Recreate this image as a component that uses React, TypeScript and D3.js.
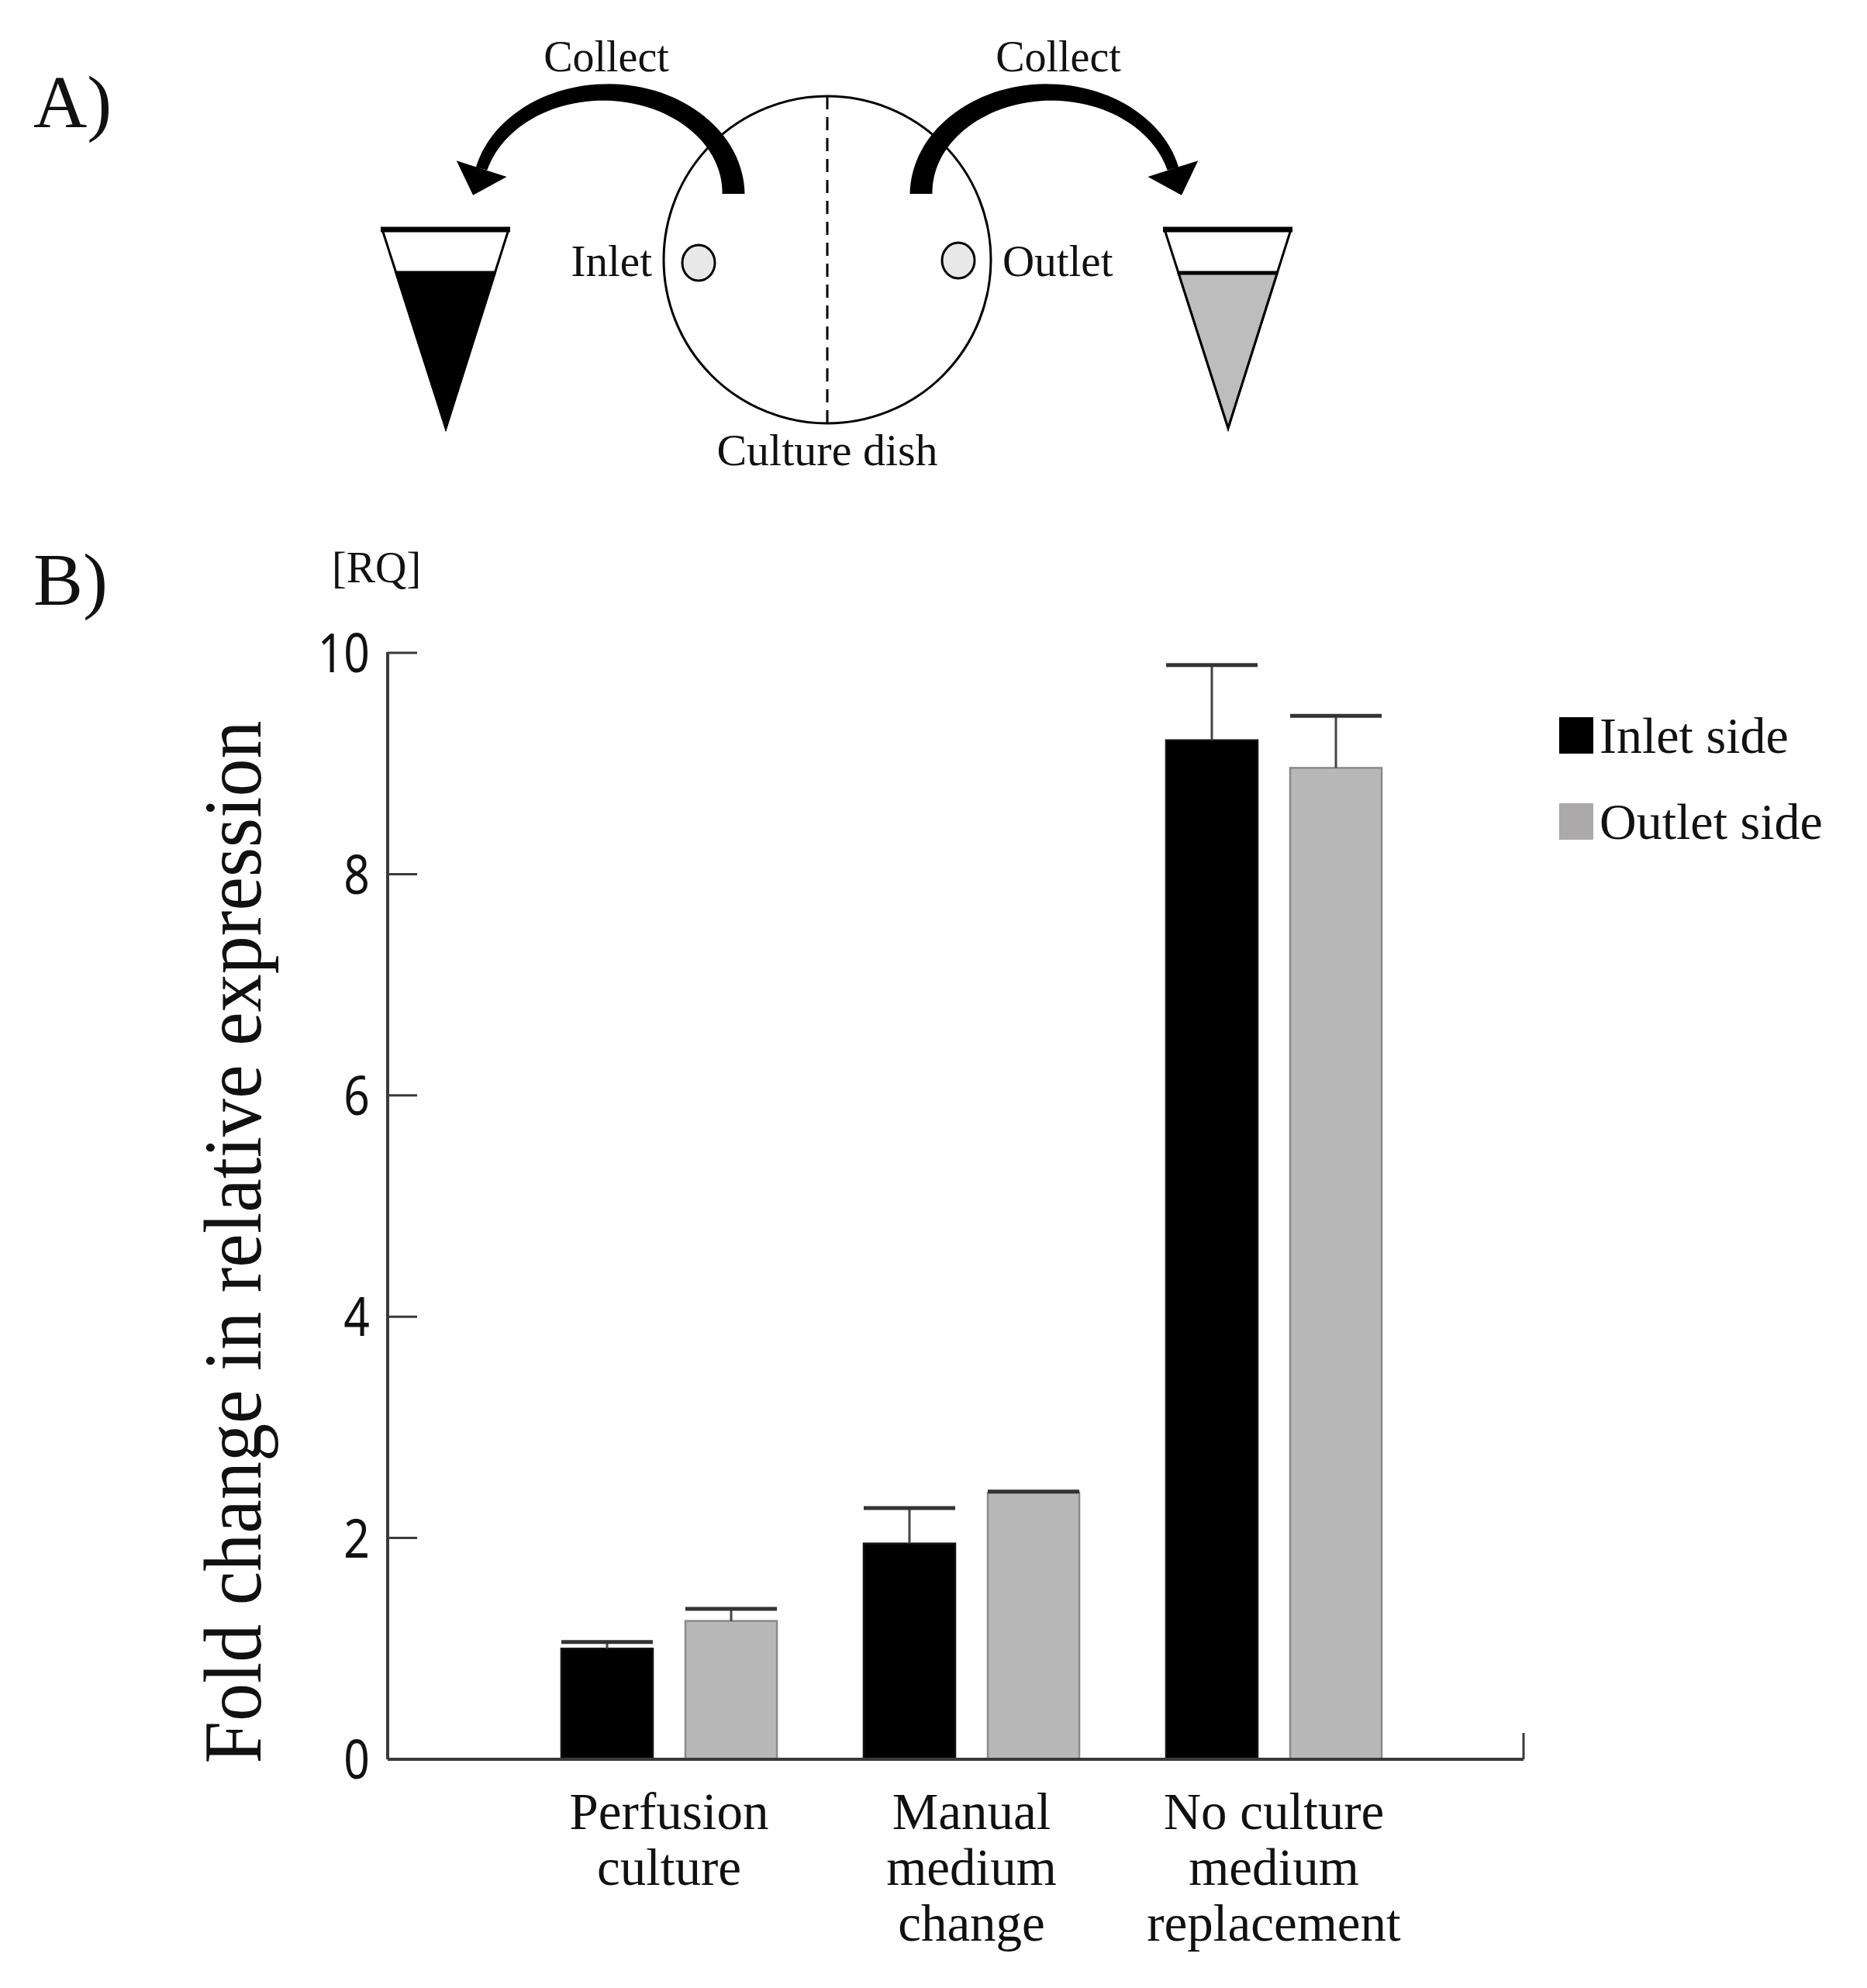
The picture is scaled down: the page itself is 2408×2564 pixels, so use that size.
import React from "react";
import * as d3 from "d3";

const categories = ["Perfusion culture", "Manual medium change", "No culture medium replacement"];
const categoryLines = [["Perfusion", "culture"], ["Manual", "medium", "change"], ["No culture", "medium", "replacement"]];
const seriesNames = ["Inlet side", "Outlet side"];
const inletValues = [1.0, 1.95, 9.21];
const inletErrors = [0.06, 0.32, 0.68];
const outletValues = [1.25, 2.41, 8.96];
const outletErrors = [0.11, 0.01, 0.47];
const yTicks = [0, 2, 4, 6, 8, 10];

const W = 2408;
const H = 2564;
const serif = "'Liberation Serif', 'DejaVu Serif', serif";
const sans = "'Noto Sans', 'Open Sans', sans-serif";

function taperedArc(cx: number, cy: number, rx: number, ry: number, t0: number, t1: number, w0: number, w1: number) {
  const n = 60;
  const outer: [number, number][] = [];
  const inner: [number, number][] = [];
  for (let i = 0; i <= n; i++) {
    const f = i / n;
    const t = t0 + (t1 - t0) * f;
    const w = w0 + (w1 - w0) * f;
    outer.push([cx + (rx + w / 2) * Math.cos(t), cy - (ry + w / 2) * Math.sin(t)]);
    inner.push([cx + (rx - w / 2) * Math.cos(t), cy - (ry - w / 2) * Math.sin(t)]);
  }
  const pts = outer.concat(inner.reverse());
  const body = d3.line()(pts) + "Z";
  // arrowhead
  const cxE = cx + rx * Math.cos(t1);
  const cyE = cy - ry * Math.sin(t1);
  let dx = -rx * Math.sin(t1);
  let dy = -ry * Math.cos(t1);
  const L = Math.hypot(dx, dy);
  dx /= L; dy /= L;
  const nx = -dy, ny = dx;
  const hw = 34, hl = 36;
  const head = d3.line()([
    [cxE + nx * hw, cyE + ny * hw],
    [cxE - nx * hw, cyE - ny * hw],
    [cxE + dx * hl, cyE + dy * hl],
  ]) + "Z";
  return { body, head };
}

function Diagram() {
  const arrow = taperedArc(781, 250, 165, 131, 0, Math.PI - 0.25, 29, 15);
  const dishCx = 1067, dishCy = 335, dishR = 211;
  const tube = (x0: number, x1: number, tipX: number, top: number, tipY: number, level: number, fill: string) => {
    const fl = (level - top) / (tipY - top);
    const lx = x0 + (tipX - x0) * fl;
    const rx = x1 - (x1 - tipX) * fl;
    return (
      <g>
        <path d={d3.line()([[x0, top], [x1, top], [tipX, tipY]]) + "Z"} fill="#fff" stroke="#000" strokeWidth={3} strokeLinejoin="miter" />
        <path d={d3.line()([[lx, level], [rx, level], [tipX, tipY]]) + "Z"} fill={fill} stroke="#000" strokeWidth={3} />
        <line x1={x0 - 2} x2={x1 + 2} y1={top} y2={top} stroke="#000" strokeWidth={7} />
        <line x1={lx} x2={rx} y1={level} y2={level} stroke="#000" strokeWidth={5} />
      </g>
    );
  };
  return (
    <g>
      <text x={43} y={164} fontFamily={serif} fontSize={96} fill="#111">A)</text>
      <circle cx={dishCx} cy={dishCy} r={dishR} fill="none" stroke="#000" strokeWidth={3} />
      <line x1={dishCx} x2={dishCx} y1={dishCy - dishR} y2={dishCy + dishR} stroke="#000" strokeWidth={3} strokeDasharray="17 10" />
      <ellipse cx={901} cy={339} rx={21} ry={23} fill="#e8e8e8" stroke="#000" strokeWidth={3} />
      <ellipse cx={1236} cy={336} rx={21} ry={23} fill="#e8e8e8" stroke="#000" strokeWidth={3} />
      <g>
        <path d={arrow.body} fill="#000" />
        <path d={arrow.head} fill="#000" />
      </g>
      <g transform={`translate(${2 * dishCx},0) scale(-1,1)`}>
        <path d={arrow.body} fill="#000" />
        <path d={arrow.head} fill="#000" />
      </g>
      {tube(493, 656, 575, 296, 552, 352, "#000")}
      {tube(1502, 1665, 1584, 296, 552, 352, "#bdbdbd")}
      <text x={782} y={92} textAnchor="middle" fontFamily={serif} fontSize={56} fill="#111">Collect</text>
      <text x={1365} y={92} textAnchor="middle" fontFamily={serif} fontSize={56} fill="#111">Collect</text>
      <text x={841} y={356} textAnchor="end" fontFamily={serif} fontSize={57} fill="#111">Inlet</text>
      <text x={1293} y={356} fontFamily={serif} fontSize={57} fill="#111">Outlet</text>
      <text x={1067} y={600} textAnchor="middle" fontFamily={serif} fontSize={58} fill="#111">Culture dish</text>
    </g>
  );
}

function Chart() {
  const x0 = 500, xEnd = 1965;
  const y = d3.scaleLinear().domain([0, 10]).range([2269, 842]);
  const xBand = d3.scaleBand<string>().domain(categories).range([668, 1838]).paddingInner(0.287).paddingOuter(0.1435);
  const xSub = d3.scaleBand<string>().domain(seriesNames).range([0, xBand.bandwidth()]).paddingInner(0.2625);
  const colors = ["#000000", "#b7b8b7"];
  const strokes = ["#111", "#8a8a8a"];
  const legendColors = ["#000000", "#aba9a9"];
  const series = [
    { name: seriesNames[0], values: inletValues, errs: inletErrors },
    { name: seriesNames[1], values: outletValues, errs: outletErrors },
  ];
  const axisColor = "#3a3a3a";
  return (
    <g>
      <text x={43} y={780} fontFamily={serif} fontSize={96} fill="#111">B)</text>
      <text x={428} y={751} fontFamily={serif} fontSize={56} fill="#111">[RQ]</text>
      <text transform="translate(336,1602) rotate(-90)" textAnchor="middle" fontFamily={serif} fontSize={106} textLength={1345} lengthAdjust="spacingAndGlyphs" fill="#111">Fold change in relative expression</text>
      {/* bars */}
      {series.map((s, si) => (
        <g key={s.name}>
          {categories.map((c, ci) => {
            const bx = (xBand(c) ?? 0) + (xSub(s.name) ?? 0);
            const bw = xSub.bandwidth();
            const top = y(s.values[ci]);
            const eTop = y(s.values[ci] + s.errs[ci]);
            const mid = bx + bw / 2;
            return (
              <g key={c}>
                <rect x={bx} y={top} width={bw} height={y(0) - top} fill={colors[si]} stroke={strokes[si]} strokeWidth={2.5} />
                <line x1={mid} x2={mid} y1={top} y2={eTop} stroke="#444" strokeWidth={3} />
                <line x1={bx} x2={bx + bw} y1={eTop} y2={eTop} stroke="#333" strokeWidth={5} />
              </g>
            );
          })}
        </g>
      ))}
      {/* axes */}
      <line x1={x0} x2={x0} y1={y(10) - 1} y2={y(0)} stroke={axisColor} strokeWidth={4} />
      <line x1={x0} x2={xEnd} y1={y(0)} y2={y(0)} stroke={axisColor} strokeWidth={4} />
      <line x1={xEnd} x2={xEnd} y1={y(0)} y2={y(0) - 34} stroke={axisColor} strokeWidth={3} />
      {yTicks.map((t) => (
        <g key={t}>
          {t > 0 && <line x1={x0} x2={x0 + 38} y1={y(t)} y2={y(t)} stroke={axisColor} strokeWidth={3} />}
          <g transform={`translate(477,${y(t)}) scale(0.84,1)`}>
            <text x={0} y={0} dy="0.36em" textAnchor="end" fontFamily={sans} fontSize={70} fill="#111">{t}</text>
          </g>
        </g>
      ))}
      {/* category labels */}
      {categories.map((c, ci) => (
        <text key={c} textAnchor="middle" fontFamily={serif} fontSize={67} fill="#111">
          {categoryLines[ci].map((ln, li) => (
            <tspan key={li} x={(xBand(c) ?? 0) + xBand.bandwidth() / 2} y={2359 + li * 72}>{ln}</tspan>
          ))}
        </text>
      ))}
      {/* legend */}
      {seriesNames.map((n, i) => (
        <g key={n}>
          <rect x={2011} y={925 + i * 111} width={44} height={47} fill={legendColors[i]} />
          <text x={2063} y={971 + i * 111} fontFamily={serif} fontSize={66} fill="#111">{n}</text>
        </g>
      ))}
    </g>
  );
}

export default function App() {
  return (
    <svg width={W} height={H} viewBox={`0 0 ${W} ${H}`} style={{ position: "absolute", left: 0, top: 0, background: "#fff" }}>
      <rect x={0} y={0} width={W} height={H} fill="#fff" />
      <Diagram />
      <Chart />
    </svg>
  );
}
